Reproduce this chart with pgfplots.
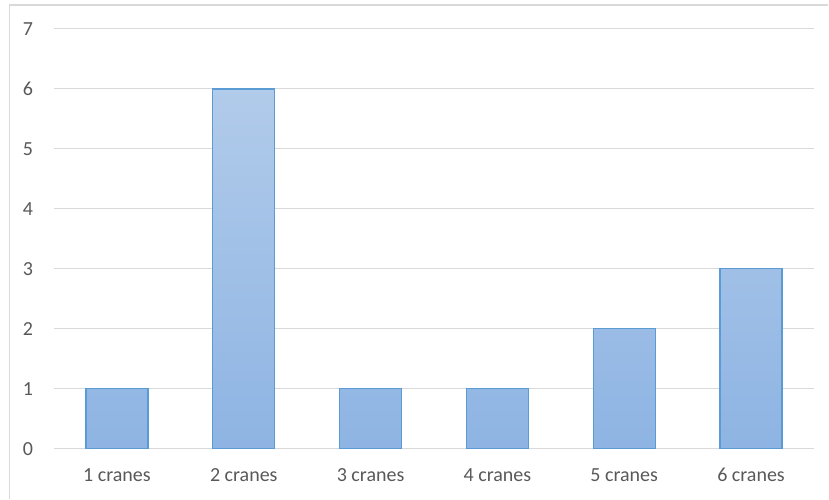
\documentclass[border=0pt]{standalone}
\usepackage{pgfplots}
\pgfplotsset{compat=1.18}
\usepackage{fontspec}
\setmainfont{Carlito}
\definecolor{gridgray}{HTML}{D9D9D9}
\definecolor{labelgray}{HTML}{595959}
\definecolor{bartop}{HTML}{B1CBEA}
\definecolor{barbot}{HTML}{8EB4E3}
\definecolor{baredge}{HTML}{5B9BD5}
\begin{document}
\begin{tikzpicture}[x=1pt,y=1pt]
	% canvas and chart frame
	\path (0,0) rectangle (829,499);
	\draw[gridgray, line width=1.2pt] (9.5,0) -- (9.5,494) -- (829,494);
	\begin{axis}[
		at={(53.6pt,50pt)}, anchor=south west,
		scale only axis,
		width=761.4pt, height=420pt,
		xmin=-0.5, xmax=5.5,
		ymin=0, ymax=7,
		xtick={0,1,2,3,4,5},
		xticklabels={1 cranes,2 cranes,3 cranes,4 cranes,5 cranes,6 cranes},
		ytick={0,1,2,3,4,5,6,7},
		ymajorgrids,
		grid style={gridgray, line width=1pt},
		axis line style={draw=none},
		major tick length=0pt,
		tick label style={font=\fontsize{20}{24}\selectfont, text=labelgray},
		/pgf/number format/assume math mode=true,
		yticklabel style={xshift=-17pt},
		xticklabel style={yshift=-16pt},
		]
		\addplot[ybar, bar width=62pt, draw=baredge, line width=1.3pt,
			top color=bartop, bottom color=barbot]
			coordinates {(0,1) (1,6) (2,1) (3,1) (4,2) (5,3)};
	\end{axis}
\end{tikzpicture}
\end{document}
